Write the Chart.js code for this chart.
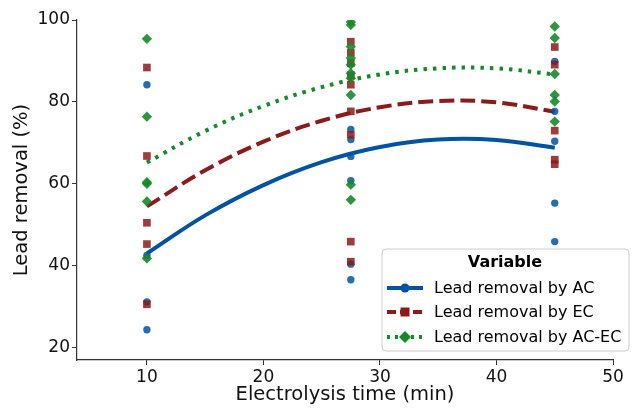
<!DOCTYPE html>
<html>
<head>
<meta charset="UTF-8">
<title>Lead removal vs electrolysis time</title>
<script src="https://cdn.jsdelivr.net/npm/chart.js@4/dist/chart.umd.min.js"></script>
<style>
  html, body { margin: 0; padding: 0; background: #fff; }
  #wrap { width: 642px; height: 411px; }
</style>
</head>
<body>
<div id="wrap"><canvas id="chart" width="642" height="411"></canvas></div>
<script>
// measured points (x = electrolysis time, y = lead removal %)
const acTime = [10, 10, 10, 10, 27.5, 27.5, 27.5, 27.5, 27.5, 27.5, 45, 45, 45, 45, 45];
const acRemoval = [84.2, 42.5, 31.2, 24.4, 73.3, 70.8, 66.7, 60.8, 40.4, 36.6, 89.9, 77.7, 70.4, 55.3, 45.9];

const ecTime = [10, 10, 10, 10, 10, 27.5, 27.5, 27.5, 27.5, 27.5, 27.5, 27.5, 27.5, 27.5, 45, 45, 45, 45, 45];
const ecRemoval = [88.4, 66.8, 50.5, 45.3, 30.6, 94.7, 92.0, 89.5, 86.5, 84.2, 77.7, 72.0, 45.9, 41.0, 93.4, 89.1, 73.0, 65.9, 64.8];

const acecTime = [10, 10, 10, 10, 10, 10, 27.5, 27.5, 27.5, 27.5, 27.5, 27.5, 27.5, 27.5, 27.5, 27.5, 45, 45, 45, 45, 45, 45];
const acecRemoval = [95.4, 76.4, 60.4, 60.0, 55.7, 41.8, 99.5, 98.8, 93.5, 90.7, 89.1, 87.0, 85.8, 81.7, 59.8, 56.1, 98.4, 95.6, 86.8, 81.7, 80.1, 75.2];

// fitted curves
const fitTime = [10, 15, 20, 25, 30, 35, 40, 45];
const fitAC = [43.0, 52.3, 59.7, 65.3, 69.0, 70.8, 70.7, 68.8];
const fitEC = [54.5, 63.3, 70.3, 75.4, 78.7, 80.2, 79.9, 77.6];
const fitACEC = [65.2, 72.9, 79.0, 83.6, 86.7, 88.2, 88.2, 86.7];

const xTicks = [10, 20, 30, 40, 50];
const yTicks = [20, 40, 60, 80, 100];
const seriesNames = ['Lead removal by AC', 'Lead removal by EC', 'Lead removal by AC-EC'];

const BLUE = '#0052a2', RED = '#8c1a1a', GREEN = '#168a2a';
const FONT = "'DejaVu Sans', sans-serif";

const pts = (xs, ys) => xs.map((x, i) => ({ x, y: ys[i] }));

// legend drawn by hand to sit inside the axes like the original
const legendBox = {
  id: 'legendBox',
  afterDraw(chart) {
    const ctx = chart.ctx;
    const x0 = 382, y0 = 249, w = 247, h = 102;
    ctx.save();
    ctx.beginPath();
    ctx.roundRect(x0, y0, w, h, 4);
    ctx.fillStyle = 'rgba(255,255,255,0.85)';
    ctx.fill();
    ctx.strokeStyle = '#cccccc';
    ctx.lineWidth = 1;
    ctx.stroke();

    ctx.fillStyle = '#000';
    ctx.font = "bold 16px " + FONT;
    ctx.textAlign = 'center';
    ctx.textBaseline = 'middle';
    ctx.fillText('Variable', 505, 263);

    const rows = [
      { y: 288, color: BLUE, dash: [], style: 'circle' },
      { y: 312, color: RED, dash: [9, 4], style: 'rect' },
      { y: 337, color: GREEN, dash: [3, 5], style: 'diamond' }
    ];
    rows.forEach((r, i) => {
      ctx.strokeStyle = r.color;
      ctx.lineWidth = 4;
      ctx.setLineDash(r.dash);
      ctx.beginPath();
      ctx.moveTo(387, r.y);
      ctx.lineTo(423, r.y);
      ctx.stroke();
      ctx.setLineDash([]);
      ctx.fillStyle = r.color;
      ctx.beginPath();
      if (r.style === 'circle') ctx.arc(405, r.y, 4.5, 0, Math.PI * 2);
      else if (r.style === 'rect') ctx.rect(400.5, r.y - 4.5, 9, 9);
      else { ctx.moveTo(405, r.y - 6); ctx.lineTo(411, r.y); ctx.lineTo(405, r.y + 6); ctx.lineTo(399, r.y); ctx.closePath(); }
      ctx.fill();
      ctx.fillStyle = '#000';
      ctx.font = "16px " + FONT;
      ctx.textAlign = 'left';
      ctx.fillText(seriesNames[i], 434, r.y + 1);
    });
    ctx.restore();
  }
};

new Chart(document.getElementById('chart'), {
  type: 'scatter',
  data: {
    datasets: [
      { label: seriesNames[2], data: pts(acecTime, acecRemoval), order: 0, pointStyle: 'rectRot', pointRadius: 5.2,
        backgroundColor: 'rgba(22,138,42,0.9)', borderWidth: 0 },
      { label: seriesNames[1], data: pts(ecTime, ecRemoval), order: 1, pointStyle: 'rect', pointRadius: 5.4,
        backgroundColor: 'rgba(140,26,26,0.85)', borderWidth: 0 },
      { label: seriesNames[0], data: pts(acTime, acRemoval), order: 2, pointStyle: 'circle', pointRadius: 3.7,
        backgroundColor: 'rgba(0,82,162,0.85)', borderWidth: 0 },
      { label: 'fit AC', data: pts(fitTime, fitAC), order: 3, showLine: true, pointRadius: 0,
        borderColor: BLUE, borderWidth: 4, tension: 0.4 },
      { label: 'fit EC', data: pts(fitTime, fitEC), order: 4, showLine: true, pointRadius: 0,
        borderColor: RED, borderWidth: 4, borderDash: [15, 6], tension: 0.4 },
      { label: 'fit AC-EC', data: pts(fitTime, fitACEC), order: 5, showLine: true, pointRadius: 0,
        borderColor: GREEN, borderWidth: 4, borderDash: [3.5, 6], tension: 0.4 }
    ]
  },
  options: {
    responsive: false,
    animation: false,
    layout: { padding: { left: 0, top: 20, right: 29, bottom: 0 } },
    plugins: { legend: { display: false }, tooltip: { enabled: false } },
    scales: {
      x: {
        type: 'linear', min: 4, max: 50,
        afterBuildTicks: s => { s.ticks = xTicks.map(v => ({ value: v })); },
        afterFit: s => { s.height = 51; },
        grid: { drawOnChartArea: false, drawTicks: true, tickLength: 5, color: '#333' },
        border: { display: true, color: '#333', width: 1.2 },
        ticks: { color: '#111', padding: 2, font: { family: FONT, size: 17 } },
        title: { display: true, text: 'Electrolysis time (min)', color: '#111',
                 font: { family: FONT, size: 19.5 }, padding: { top: 0, bottom: 4 } }
      },
      y: {
        type: 'linear', min: 17, max: 100,
        afterBuildTicks: s => { s.ticks = yTicks.map(v => ({ value: v })); },
        afterFit: s => { s.width = 77; },
        grid: { drawOnChartArea: false, drawTicks: true, tickLength: 5, color: '#333' },
        border: { display: true, color: '#333', width: 1.2 },
        ticks: { color: '#111', padding: 2, font: { family: FONT, size: 17 } },
        title: { display: true, text: 'Lead removal (%)', color: '#111',
                 font: { family: FONT, size: 19.5 }, padding: { top: 10, bottom: 0 } }
      }
    }
  },
  plugins: [legendBox]
});
</script>
</body>
</html>
